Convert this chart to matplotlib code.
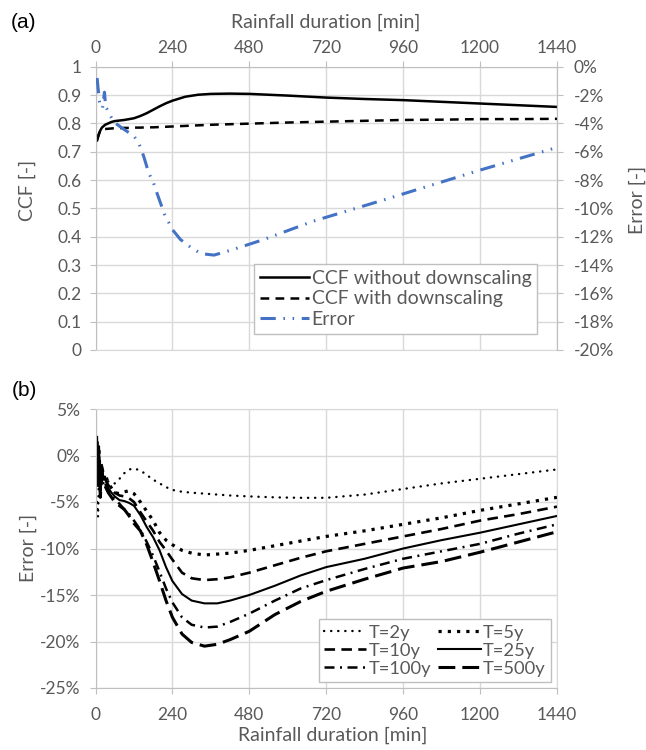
import matplotlib
matplotlib.use("Agg")
import matplotlib.pyplot as plt
from matplotlib.ticker import FixedLocator, FuncFormatter

plt.rcParams['font.family'] = ['Lato', 'DejaVu Sans']
plt.rcParams['axes.unicode_minus'] = False

# ---------------- data: panel (a) ----------------
t_a = [5, 10, 15, 20, 25, 30, 40, 50, 60, 75, 90, 105, 120, 140, 160, 180, 200, 220, 240,
       280, 320, 360, 420, 480, 600, 720, 840, 960, 1080, 1200, 1320, 1440]
ccf_without = [0.740, 0.760, 0.775, 0.785, 0.790, 0.795, 0.800, 0.805, 0.808, 0.810, 0.812,
               0.815, 0.818, 0.826, 0.836, 0.848, 0.860, 0.871, 0.880, 0.894, 0.901, 0.904,
               0.905, 0.904, 0.898, 0.891, 0.886, 0.882, 0.876, 0.870, 0.864, 0.858]
ccf_with = [0.742, 0.760, 0.775, 0.778, 0.780, 0.780, 0.781, 0.782, 0.783, 0.783, 0.784,
            0.784, 0.785, 0.785, 0.786, 0.786, 0.787, 0.788, 0.789, 0.791, 0.793, 0.795,
            0.797, 0.799, 0.803, 0.806, 0.809, 0.812, 0.813, 0.815, 0.815, 0.816]

t_err = [5, 8, 12, 16, 22, 28, 32, 36, 45, 57, 75, 94, 120, 135, 150, 166, 181, 193, 215,
         240, 265, 300, 330, 370, 430, 525, 680, 900, 1200, 1440]
err_a = [-0.8, -1.5, -2.4, -2.9, -2.9, -1.8, -2.9, -3.0, -3.4, -3.9, -4.2, -4.5, -4.9, -5.4,
         -6.3, -7.5, -8.2, -9.0, -10.4, -11.5, -12.2, -12.8, -13.2, -13.3, -12.9, -12.2,
         -10.9, -9.4, -7.3, -5.7]

labels_a = ["CCF without downscaling", "CCF with downscaling", "Error"]

# ---------------- data: panel (b) ----------------
t_b = [5, 8, 11, 15, 20, 25, 30, 40, 50, 60, 75, 90, 105, 120, 140, 160, 180, 200, 220,
       240, 270, 300, 340, 380, 420, 480, 560, 640, 720, 840, 960, 1080, 1200, 1320, 1440]
err_T2 = [-5.0, -6.6, -1.0, -3.5, -2.0, -3.0, -2.2, -2.8, -3.0, -3.0, -2.5, -1.9, -1.5, -1.4,
          -1.6, -2.1, -2.6, -3.0, -3.4, -3.7, -3.9, -4.0, -4.1, -4.2, -4.3, -4.4, -4.5,
          -4.55, -4.55, -4.2, -3.6, -3.0, -2.5, -2.0, -1.5]
err_T5 = [1.5, -2.0, 0.5, -3.0, -1.0, -2.5, -2.0, -3.0, -3.5, -4.0, -4.1, -3.9, -3.8, -4.1,
          -5.0, -6.0, -7.0, -8.3, -9.1, -9.6, -10.2, -10.5, -10.7, -10.6, -10.5, -10.2, -9.7,
          -9.2, -8.7, -8.1, -7.4, -6.7, -5.9, -5.2, -4.5]
err_T10 = [1.0, -1.0, -0.5, -3.5, -1.5, -2.8, -2.5, -3.2, -3.6, -4.0, -4.3, -4.4, -4.6, -5.0,
           -6.1, -7.1, -8.1, -9.3, -10.2, -11.2, -12.6, -13.2, -13.4, -13.3, -13.1, -12.6,
           -11.8, -11.0, -10.3, -9.5, -8.7, -7.9, -7.0, -6.3, -5.5]
err_T25 = [2.0, -3.0, 1.0, -4.0, -1.0, -2.6, -2.5, -3.5, -4.0, -4.4, -4.8, -4.9, -5.1, -5.4,
           -6.4, -7.7, -8.8, -10.2, -12.0, -13.5, -14.9, -15.6, -15.9, -15.9, -15.6, -15.0,
           -14.0, -12.9, -12.0, -11.1, -10.0, -9.1, -8.3, -7.4, -6.5]
err_T100 = [1.5, -2.5, 0.0, -3.8, -1.2, -2.8, -3.0, -3.8, -4.3, -4.7, -5.2, -5.8, -6.3, -7.0,
            -8.0, -9.3, -10.8, -12.5, -14.3, -15.8, -17.4, -18.2, -18.5, -18.4, -17.9, -17.0,
            -15.6, -14.3, -13.4, -12.2, -11.1, -10.3, -9.5, -8.4, -7.4]
err_T500 = [1.0, -3.5, -0.5, -4.5, -2.0, -3.2, -3.3, -4.0, -4.5, -5.0, -5.4, -5.8, -6.5, -7.3,
            -8.1, -9.6, -11.5, -13.5, -15.6, -17.4, -19.2, -20.1, -20.5, -20.3, -19.8, -18.9,
            -17.1, -15.7, -14.6, -13.3, -12.1, -11.4, -10.4, -9.3, -8.2]

labels_b = ["T=2y", "T=5y", "T=10y", "T=25y", "T=100y", "T=500y"]

x_ticks = [0, 240, 480, 720, 960, 1200, 1440]
ccf_ticks = [0, 0.1, 0.2, 0.3, 0.4, 0.5, 0.6, 0.7, 0.8, 0.9, 1]
err_a_ticks = [0, -2, -4, -6, -8, -10, -12, -14, -16, -18, -20]
err_b_ticks = [5, 0, -5, -10, -15, -20, -25]

# ---------------- style ----------------
TXT = '#595959'
GRID = '#d9d9d9'
AXC = '#bfbfbf'
BLUE = '#4472C4'
FS = 12.5      # tick labels
FT = 14        # axis titles / legend (a)
FL = 13.2      # legend (b)

W, H = 646, 750
fig = plt.figure(figsize=(W / 100, H / 100), dpi=100)

def box(l, t, r, b):
    return [l / W, 1 - b / H, (r - l) / W, (b - t) / H]

# ---------------- panel (a) ----------------
ax = fig.add_axes(box(95.5, 66.7, 557, 350))
ax2 = ax.twinx()
ax.set_xlim(0, 1440)
ax.set_ylim(0, 1)
ax2.set_ylim(-20, 0)

ax.xaxis.set_major_locator(FixedLocator(x_ticks))
ax.yaxis.set_major_locator(FixedLocator(ccf_ticks))
ax.yaxis.set_major_formatter(FuncFormatter(lambda v, p: f"{v:g}"))
ax2.yaxis.set_major_locator(FixedLocator(err_a_ticks))
ax2.yaxis.set_major_formatter(FuncFormatter(lambda v, p: f"{v:.0f}%"))

ax.xaxis.tick_top()
ax.grid(True, color=GRID, lw=1.0)
ax.set_axisbelow(True)
for s in ['left', 'top', 'right']:
    ax.spines[s].set_color(AXC)
ax.spines['bottom'].set_color(GRID)
for s in ax2.spines.values():
    s.set_visible(False)
ax2.spines['right'].set_visible(True)
ax2.spines['right'].set_color(AXC)

ax.tick_params(axis='x', which='major', top=True, bottom=False, direction='out', length=4,
               color=AXC, labelsize=FS, labelcolor=TXT, pad=4)
ax.tick_params(axis='y', direction='out', length=4, color=AXC, labelsize=FS,
               labelcolor=TXT, pad=6)
ax2.tick_params(axis='y', direction='out', length=4, color=AXC, labelsize=FS,
                labelcolor=TXT, pad=8)

l1, = ax.plot(t_a, ccf_without, color='black', lw=1.8, solid_joinstyle='round')
l2, = ax.plot(t_a, ccf_with, color='black', lw=1.8, linestyle=(0, (3.5, 2.5)))
l3, = ax2.plot(t_err, err_a, color=BLUE, lw=2.2,
               linestyle=(0, (5, 2.5, 0.5, 2.5, 0.5, 2.5)))

leg_a = ax2.legend([l1, l2, l3], labels_a, loc='lower right', bbox_to_anchor=(0.957, 0.056),
                   frameon=True, fancybox=False, framealpha=1, edgecolor=AXC,
                   fontsize=FT, handlelength=2.5, handletextpad=0.15, labelspacing=0.2,
                   borderpad=0.3, borderaxespad=0)
leg_a.get_frame().set_linewidth(1.0)
for tx in leg_a.get_texts():
    tx.set_color(TXT)

fig.text(326 / W, 1 - 22 / H, "Rainfall duration [min]", ha='center', va='center',
         fontsize=FT, color=TXT)
fig.text(27 / W, 1 - 190 / H, "CCF [-]", ha='center', va='center', rotation=90,
         fontsize=FT, color=TXT)
fig.text(637 / W, 1 - 200 / H, "Error [-]", ha='center', va='center', rotation=90,
         fontsize=FT, color=TXT)
fig.text(24 / W, 1 - 23 / H, "(a)", ha='center', va='center', fontsize=15,
         color='black', family=['Liberation Sans', 'DejaVu Sans'])

# ---------------- panel (b) ----------------
bx = fig.add_axes(box(95.5, 409, 557, 688))
bx.set_xlim(0, 1440)
bx.set_ylim(-25, 5)
bx.xaxis.set_major_locator(FixedLocator(x_ticks))
bx.yaxis.set_major_locator(FixedLocator(err_b_ticks))
bx.yaxis.set_major_formatter(FuncFormatter(lambda v, p: f"{v:.0f}%"))
bx.grid(True, color=GRID, lw=1.0)
bx.set_axisbelow(True)
bx.spines['left'].set_color(AXC)
bx.spines['bottom'].set_color(AXC)
bx.spines['top'].set_color(GRID)
bx.spines['right'].set_color(GRID)
bx.tick_params(axis='x', direction='out', length=4, color=AXC, labelsize=FS,
               labelcolor=TXT, pad=10)
bx.tick_params(axis='y', direction='out', length=4, color=AXC, labelsize=FS,
               labelcolor=TXT, pad=7)

h2, = bx.plot(t_b, err_T2, color='black', lw=1.7, linestyle=(0, (0.1, 2.9)),
              dash_capstyle='round')
h5, = bx.plot(t_b, err_T5, color='black', lw=2.3, linestyle=(0, (1, 1.9)))
h10, = bx.plot(t_b, err_T10, color='black', lw=1.9, linestyle=(0, (4, 2.4)))
h25, = bx.plot(t_b, err_T25, color='black', lw=1.5)
h100, = bx.plot(t_b, err_T100, color='black', lw=1.8, linestyle=(0, (4, 2.2, 0.8, 2.2)))
h500, = bx.plot(t_b, err_T500, color='black', lw=2.2, linestyle=(0, (5.5, 2.3)))

# legend arranged row-wise: (2y,5y) / (10y,25y) / (100y,500y)
handles_b = [h2, h10, h100, h5, h25, h500]
order = [0, 2, 4, 1, 3, 5]
leg_b = bx.legend(handles_b, [labels_b[i] for i in order], ncol=2, loc='lower right',
                  bbox_to_anchor=(0.987, 0.0215), frameon=True, fancybox=False,
                  framealpha=1, edgecolor=AXC, fontsize=FL, handlelength=2.3,
                  handletextpad=0.12, labelspacing=0.1, columnspacing=0.4,
                  borderpad=0.3, borderaxespad=0)
leg_b.get_frame().set_linewidth(1.0)
for tx in leg_b.get_texts():
    tx.set_color(TXT)

fig.text(333 / W, 1 - 735 / H, "Rainfall duration [min]", ha='center', va='center',
         fontsize=FT, color=TXT)
fig.text(28 / W, 1 - 548 / H, "Error [-]", ha='center', va='center', rotation=90,
         fontsize=FT, color=TXT)
fig.text(24 / W, 1 - 390 / H, "(b)", ha='center', va='center', fontsize=15,
         color='black', family=['Liberation Sans', 'DejaVu Sans'])

fig.savefig("out.png", dpi=100)
